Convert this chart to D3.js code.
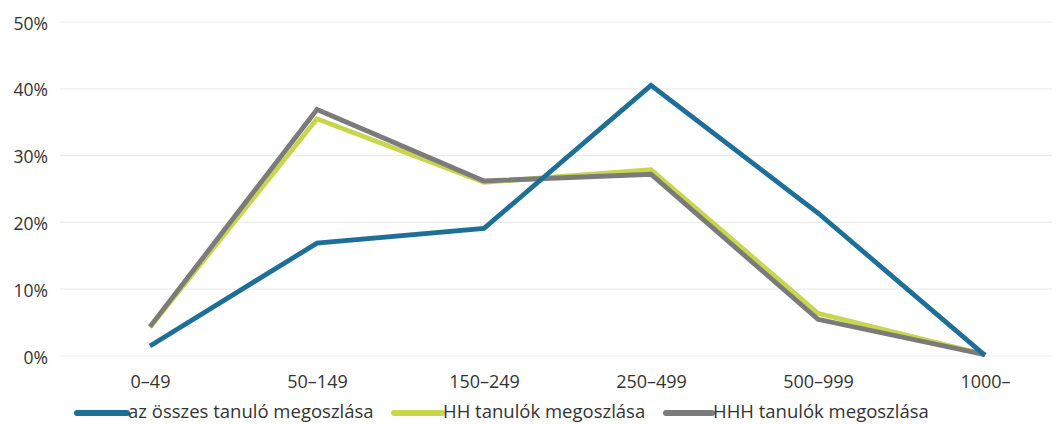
<!DOCTYPE html>
<html>
<head>
<meta charset="utf-8">
<script src="https://cdn.jsdelivr.net/npm/d3@7/dist/d3.min.js"></script>
<style>
  html, body { margin: 0; padding: 0; background: #fff; }
  svg { display: block; }
  text { font-family: "Open Sans", "Noto Sans", sans-serif; fill: #333; }
</style>
</head>
<body>
<svg id="chart" width="1058" height="424"></svg>
<script>
const categories = ["0–49", "50–149", "150–249", "250–499", "500–999", "1000–"];
const seriesNames = ["az összes tanuló megoszlása", "HH tanulók megoszlása", "HHH tanulók megoszlása"];
const allStudents = [1.5, 16.9, 19.1, 40.5, 21.4, 0.1];
const hhStudents = [4.3, 35.5, 26.0, 27.9, 6.4, 0.2];
const hhhStudents = [4.4, 36.9, 26.2, 27.2, 5.5, 0.2];
const yTicks = [0, 10, 20, 30, 40, 50];
const colors = ["#1d6f98", "#c7d64c", "#7b7b7b"];

const svg = d3.select("#chart");
const x = d3.scalePoint().domain(categories).range([150, 985]);
const y = d3.scaleLinear().domain([0, 50]).range([356, 22]);

// gridlines
svg.append("g").selectAll("line").data(yTicks).join("line")
  .attr("x1", 60).attr("x2", 1052)
  .attr("y1", d => y(d)).attr("y2", d => y(d))
  .attr("stroke", "#ececec").attr("stroke-width", 1.2);

// y axis labels
const yAxis = d3.axisLeft(y).tickValues(yTicks).tickFormat(d => d + "%").tickSize(0).tickPadding(0);
const yg = svg.append("g").attr("transform", "translate(48,0)").call(yAxis);
yg.select(".domain").remove();
yg.selectAll("text").attr("font-size", 17.5).attr("dy", "0.4em").style("font-family", "'Open Sans', sans-serif").attr("fill", "#333");

// x axis labels
const xAxis = d3.axisBottom(x).tickSize(0).tickPadding(0);
const xg = svg.append("g").attr("transform", "translate(0,375)").call(xAxis);
xg.select(".domain").remove();
xg.selectAll("text").attr("font-size", 18).attr("dy", "0.71em").style("font-family", "'Open Sans', sans-serif").attr("fill", "#333");

// lines
const data = [allStudents, hhStudents, hhhStudents];
const line = d3.line().x((d, i) => x(categories[i])).y(d => y(d));
const order = [1, 2, 0];
svg.append("g").selectAll("path").data(order).join("path")
  .attr("d", i => line(data[i]))
  .attr("fill", "none")
  .attr("stroke", i => colors[i])
  .attr("stroke-width", 4.8)
  .attr("stroke-linejoin", "miter")
  .attr("stroke-linecap", "butt");

// legend
const legendSw = [[77, 127], [394, 442], [666, 712]];
const lg = svg.append("g").selectAll("g").data(seriesNames).join("g");
lg.append("line").attr("x1", (d, i) => legendSw[i][0]).attr("x2", (d, i) => legendSw[i][1]).attr("y1", 413).attr("y2", 413)
  .attr("stroke", (d, i) => colors[i]).attr("stroke-width", 6).attr("stroke-linecap", "round");
lg.append("text").attr("x", (d, i) => legendSw[i][1] + 1).attr("y", 418)
  .attr("font-size", 18.5).text(d => d);
</script>
</body>
</html>
